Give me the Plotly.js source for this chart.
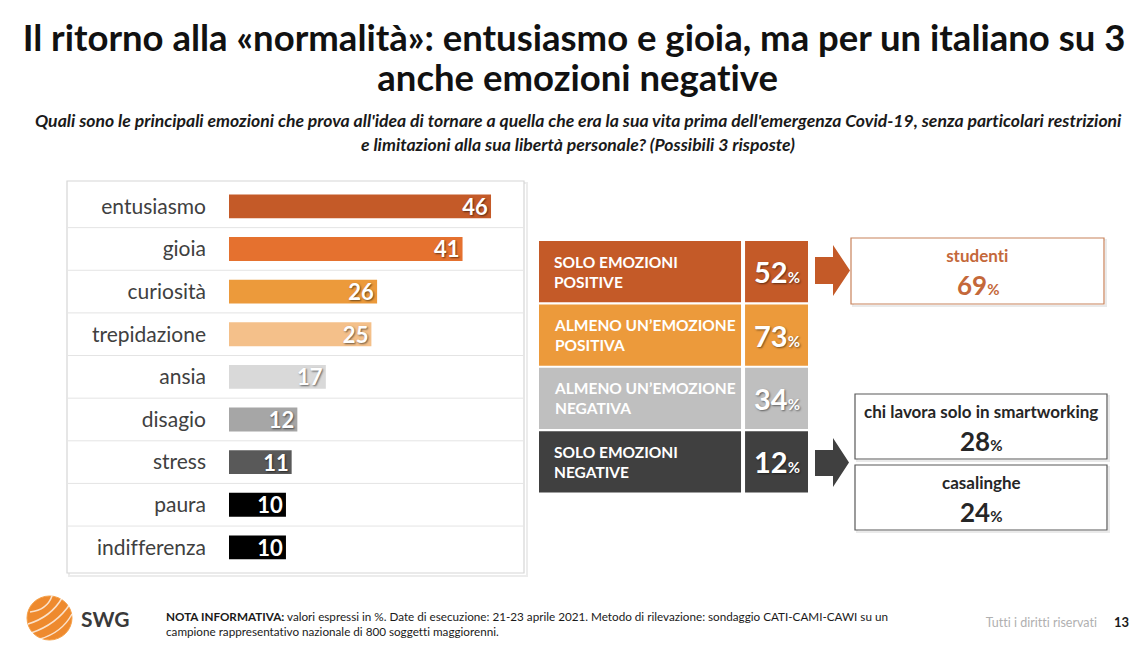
<!DOCTYPE html>
<html>
<head>
<meta charset="utf-8">
<script src="https://cdn.plot.ly/plotly-3.0.1.min.js"></script>
<style>
  html, body { margin: 0; padding: 0; background: #ffffff; }
  #chart { width: 1148px; height: 650px; }
  #chart svg text { font-variant-ligatures: none; font-feature-settings: "liga" 0; }
</style>
</head>
<body>
<div id="chart"></div>
<script>
// ---------- DATA ----------
const emozioni = ['entusiasmo', 'gioia', 'curiosità', 'trepidazione', 'ansia', 'disagio', 'stress', 'paura', 'indifferenza'];
const valori = [46, 41, 26, 25, 17, 12, 11, 10, 10];

const gruppi = ['SOLO EMOZIONI<br>POSITIVE', 'ALMENO UN’EMOZIONE<br>POSITIVA', 'ALMENO UN’EMOZIONE<br>NEGATIVA', 'SOLO EMOZIONI<br>NEGATIVE'];
const gruppiValori = [52, 73, 34, 12];

const segmenti = ['studenti', 'chi lavora solo in smartworking', 'casalinghe'];
const segmentiValori = [69, 28, 24];

const titolo1 = 'Il ritorno alla «normalità»: entusiasmo e gioia, ma per un italiano su 3';
const titolo2 = 'anche emozioni negative';
const domanda1 = "Quali sono le principali emozioni che prova all'idea di tornare a quella che era la sua vita prima dell'emergenza Covid-19, senza particolari restrizioni";
const domanda2 = 'e limitazioni alla sua libertà personale? (Possibili 3 risposte)';
const nota = '<b>NOTA INFORMATIVA:</b> valori espressi in %. Date di esecuzione: 21-23 aprile 2021. Metodo di rilevazione: sondaggio CATI-CAMI-CAWI su un<br>campione rappresentativo nazionale di 800 soggetti maggiorenni.';

// ---------- STYLE ----------
const W = 1148, H = 650;
const FONT = 'Lato, "Open Sans", sans-serif';
const barColors = ['#C45A28', '#E5712F', '#EC9A3B', '#F4C08A', '#D9D9D9', '#A6A6A6', '#595959', '#000000', '#000000'];
const groupColors = ['#C45A28', '#EC9A3B', '#BFBFBF', '#404040'];
const px = v => v / W;
const py = v => 1 - v / H;

// ---------- TRACES ----------
const bars = {
  type: 'bar',
  orientation: 'h',
  y: emozioni,
  x: valori,
  xaxis: 'x', yaxis: 'y',
  marker: { color: barColors, line: { width: 0 } },
  width: 0.56,
  texttemplate: '<b>%{x}</b>',
  textposition: 'inside',
  insidetextanchor: 'end',
  textangle: 0,
  constraintext: 'none',
  textfont: { family: FONT, size: 22, color: '#ffffff', shadow: '1px 1px 2px rgba(0,0,0,0.55)' },
  hoverinfo: 'skip',
  showlegend: false
};

const groupAxis = {
  type: 'scatter', mode: 'markers',
  x: gruppi.map(() => 0.5), y: gruppi,
  xaxis: 'x2', yaxis: 'y2',
  marker: { opacity: 0 }, hoverinfo: 'skip', showlegend: false
};

// ---------- SHAPES ----------
const shapes = [];
shapes.push({ type: 'rect', xref: 'paper', yref: 'paper', x0: px(69), x1: px(527), y0: py(576), y1: py(183),
  line: { color: '#ececec', width: 2 }, fillcolor: 'rgba(0,0,0,0)', layer: 'below' });
shapes.push({ type: 'rect', xref: 'paper', yref: 'paper', x0: px(67), x1: px(524), y0: py(573), y1: py(181),
  line: { color: '#d6d6d6', width: 1.2 }, fillcolor: '#ffffff', layer: 'below' });
for (let i = 0; i < emozioni.length - 1; i++) {
  shapes.push({ type: 'line', xref: 'paper', yref: 'y', x0: px(68), x1: px(523), y0: i + 0.5, y1: i + 0.5,
    line: { color: '#e4e4e4', width: 1 }, layer: 'below' });
}
const g = 0.016, split = 0.751, vstart = 0.766;
gruppi.forEach((lab, i) => {
  shapes.push({ type: 'rect', xref: 'x2', yref: 'y2', x0: 0, x1: split, y0: i - 0.5 + g, y1: i + 0.5 - g,
    fillcolor: groupColors[i], line: { width: 0 } });
  shapes.push({ type: 'rect', xref: 'x2', yref: 'y2', x0: vstart, x1: 1, y0: i - 0.5 + g, y1: i + 0.5 - g,
    fillcolor: groupColors[i], line: { width: 0 } });
});
function arrow(xb0, xb1, xt, yb0, yb1, yh0, yh1, color) {
  const ym = (yh0 + yh1) / 2;
  const pts = [[xb0, yb0], [xb1, yb0], [xb1, yh0], [xt, ym], [xb1, yh1], [xb1, yb1], [xb0, yb1]];
  return { type: 'path', xref: 'paper', yref: 'paper',
    path: 'M' + pts.map(p => px(p[0]) + ',' + py(p[1])).join(' L') + ' Z',
    fillcolor: color, line: { width: 0 } };
}
shapes.push(arrow(815, 833, 850, 257, 284, 245, 296, groupColors[0]));
shapes.push(arrow(815, 833, 849, 450, 476, 438, 487, groupColors[3]));
const boxes = [
  { x0: 851, x1: 1104, y0: 238, y1: 304, c: '#C8825A' },
  { x0: 855, x1: 1107, y0: 394, y1: 459, c: '#595959' },
  { x0: 855, x1: 1107, y0: 465, y1: 530, c: '#595959' }
];
boxes.forEach(b => {
  shapes.push({ type: 'rect', xref: 'paper', yref: 'paper', x0: px(b.x0 + 2), x1: px(b.x1 + 2), y0: py(b.y1 + 2), y1: py(b.y0 + 2),
    line: { color: '#eaeaea', width: 2 }, fillcolor: 'rgba(0,0,0,0)', layer: 'below' });
  shapes.push({ type: 'rect', xref: 'paper', yref: 'paper', x0: px(b.x0), x1: px(b.x1), y0: py(b.y1), y1: py(b.y0),
    line: { color: b.c, width: 1.2 }, fillcolor: '#ffffff' });
});
shapes.push({ type: 'circle', xref: 'paper', yref: 'paper', x0: px(27), x1: px(72), y0: py(640), y1: py(596),
  fillcolor: '#EE8A2E', line: { color: '#F5A048', width: 1 } });
[[30, 612, 52, 596], [28, 624, 62, 598], [31, 633, 70, 604], [40, 639, 72, 614]].forEach(a => {
  shapes.push({ type: 'path', xref: 'paper', yref: 'paper',
    path: `M${px(a[0])},${py(a[1])} Q${px((a[0] + a[2]) / 2 + 6)},${py((a[1] + a[3]) / 2 + 6)} ${px(a[2])},${py(a[3])}`,
    line: { color: 'rgba(255,255,255,0.75)', width: 1.5 } });
});

// ---------- ANNOTATIONS ----------
const ann = [];
ann.push({ xref: 'paper', yref: 'paper', x: px(577), y: py(77), text: '<b>' + titolo2 + '</b>',
  showarrow: false, xanchor: 'center', yanchor: 'middle', font: { family: FONT, size: 36.5, color: '#111111' } });
ann.push({ xref: 'paper', yref: 'paper', x: px(578), y: py(121), text: '<b><i>' + domanda1 + '</i></b>',
  showarrow: false, xanchor: 'center', yanchor: 'middle', font: { family: FONT, size: 17.6, color: '#1a1a1a' } });
ann.push({ xref: 'paper', yref: 'paper', x: px(578), y: py(144), text: '<b><i>' + domanda2 + '</i></b>',
  showarrow: false, xanchor: 'center', yanchor: 'middle', font: { family: FONT, size: 17.6, color: '#1a1a1a' } });

gruppi.forEach((lab, i) => {
  ann.push({ xref: 'x2', yref: 'y2', x: 0.05, y: lab, text: '<b>' + lab + '</b>', showarrow: false,
    xanchor: 'left', yanchor: 'middle', align: 'left',
    font: { family: FONT, size: 15.5, color: '#ffffff' } });
  ann.push({ xref: 'x2', yref: 'y2', x: (vstart + 1) / 2, y: lab,
    text: '<b>' + gruppiValori[i] + '</b><span style="font-size:15px"><b>%</b></span>',
    showarrow: false, xanchor: 'center', yanchor: 'middle',
    font: { family: FONT, size: 29, color: '#ffffff', shadow: '1px 1px 2px rgba(0,0,0,0.5)' } });
});

const segColors = ['#C4683A', '#262626', '#262626'];
segmenti.forEach((s, i) => {
  const b = boxes[i];
  const cx = (b.x0 + b.x1) / 2;
  ann.push({ xref: 'paper', yref: 'paper', x: px(cx), y: py(b.y0 + 29), text: '<b>' + s + '</b>', showarrow: false,
    xanchor: 'center', yanchor: 'bottom', borderpad: 0,
    font: { family: FONT, size: 17, color: segColors[i] } });
  ann.push({ xref: 'paper', yref: 'paper', x: px(cx), y: py(b.y0 + 29.5),
    text: '<b>' + segmentiValori[i] + '</b><span style="font-size:15px"><b>%</b></span>', showarrow: false,
    xanchor: 'center', yanchor: 'top', borderpad: 0,
    font: { family: FONT, size: 26, color: segColors[i] } });
});

ann.push({ xref: 'paper', yref: 'paper', x: px(79), y: py(618), text: '<b>SWG</b>', showarrow: false,
  xanchor: 'left', yanchor: 'middle', font: { family: FONT, size: 21, color: '#3a3a3a' } });
ann.push({ xref: 'paper', yref: 'paper', x: px(164), y: py(623), text: nota, showarrow: false,
  xanchor: 'left', yanchor: 'middle', align: 'left', font: { family: FONT, size: 11.7, color: '#1a1a1a' } });
ann.push({ xref: 'paper', yref: 'paper', x: px(1099), y: py(622), text: 'Tutti i diritti riservati', showarrow: false,
  xanchor: 'right', yanchor: 'middle', font: { family: FONT, size: 12.5, color: '#b0b0b0' } });
ann.push({ xref: 'paper', yref: 'paper', x: px(1121), y: py(622), text: '<b>13</b>', showarrow: false,
  xanchor: 'center', yanchor: 'middle', font: { family: FONT, size: 13, color: '#1a1a1a' } });

// ---------- LAYOUT ----------
const layout = {
  width: W, height: H,
  margin: { l: 0, r: 0, t: 0, b: 0 },
  paper_bgcolor: '#ffffff', plot_bgcolor: 'rgba(0,0,0,0)',
  font: { family: FONT },
  title: { text: '<b>' + titolo1 + '</b>', x: 0.5, xanchor: 'center', xref: 'paper',
    y: 1 - 38 / H, yref: 'container', yanchor: 'middle',
    font: { family: FONT, size: 36.5, color: '#111111' } },
  xaxis: { domain: [px(229), px(524)], range: [0, (524 - 229) / 5.696], visible: false, fixedrange: true },
  yaxis: { domain: [py(568.7), py(185)], type: 'category', range: [8.5, -0.5],
    showgrid: false, zeroline: false, showline: false, ticks: '',
    ticklabelstandoff: 22, tickfont: { family: FONT, size: 21, color: '#404040' }, fixedrange: true },
  xaxis2: { domain: [px(539), px(808)], range: [0, 1], visible: false, anchor: 'y2', fixedrange: true },
  yaxis2: { domain: [py(493.5), py(240)], type: 'category', range: [3.5, -0.5], visible: false, anchor: 'x2', fixedrange: true },
  shapes: shapes,
  annotations: ann,
  showlegend: false
};

Plotly.newPlot('chart', [bars, groupAxis], layout, { displayModeBar: false, staticPlot: true });
</script>
</body>
</html>
